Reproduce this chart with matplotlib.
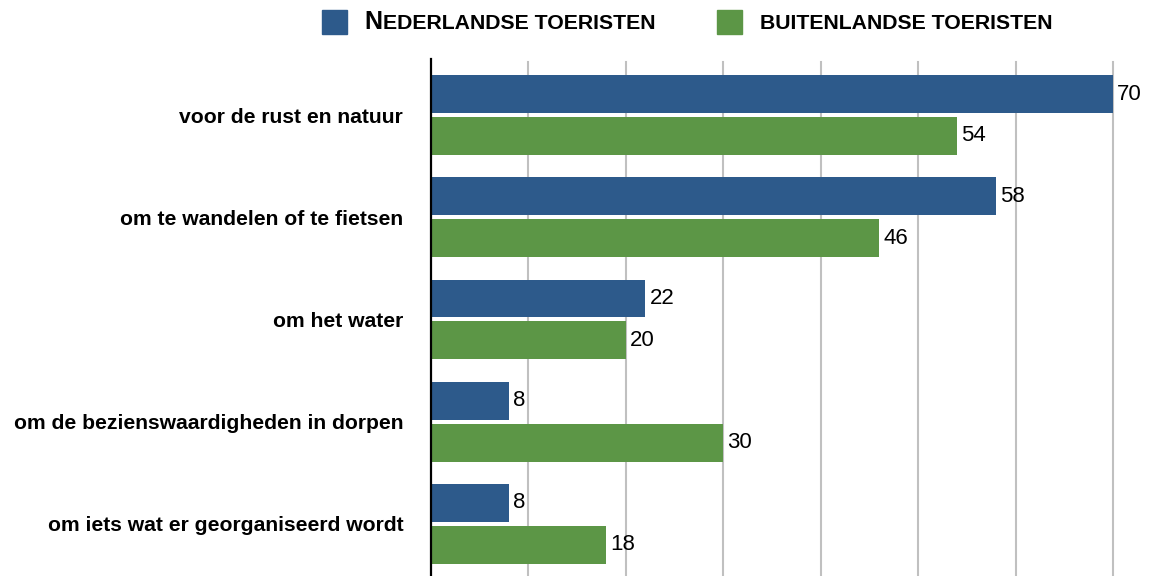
import numpy as np
import matplotlib.pyplot as plt
from matplotlib.patches import Rectangle

# ======================
# Data
# ======================
categories = [
    "voor de rust en natuur",
    "om te wandelen of te fietsen",
    "om het water",
    "om de bezienswaardigheden in dorpen",
    "om iets wat er georganiseerd wordt",
]
nederlandse = [70, 58, 22, 8, 8]
buitenlandse = [54, 46, 20, 30, 18]
grid_ticks = [10, 20, 30, 40, 50, 60, 70]

BLUE = "#2d5a8b"
GREEN = "#5c9646"
GRID = "#c0c0c0"

plt.rcParams["font.family"] = ["Liberation Sans", "DejaVu Sans"]

W, H = 1151, 576
fig = plt.figure(figsize=(W / 100, H / 100), dpi=100)

# axes: left edge at x=431px, top at y=59px, runs to figure edge
ax = fig.add_axes([431 / W, 0, (W - 431) / W, (H - 59) / H])

y = np.arange(len(categories))
bar_h = 0.37
off = 0.205
ax.barh(y - off, nederlandse, height=bar_h, color=BLUE, zorder=2)
ax.barh(y + off, buitenlandse, height=bar_h, color=GREEN, zorder=2)

px_per_unit = (1113 - 431) / 70
ax.set_xlim(0, (W - 431) / px_per_unit)
ax.set_ylim(4.51, -0.548)

# grid lines start a little below the axis top
grid_top = (H - 62) / (H - 59)
for g in grid_ticks:
    ax.axvline(g, ymin=0, ymax=grid_top, color=GRID, lw=1.5, zorder=0)

ax.set_xticks([])
ax.tick_params(axis="y", length=0, pad=20)
ax.set_yticks(y)
ax.set_yticklabels(categories, fontsize=15.2, fontweight="bold")

for s in ["top", "right", "bottom"]:
    ax.spines[s].set_visible(False)
ax.spines["left"].set_color("black")
ax.spines["left"].set_linewidth(1.6)

# value labels
for yi, v in zip(y, nederlandse):
    ax.annotate(str(v), (v, yi - off), xytext=(3, 0), textcoords="offset points",
                va="center", ha="left", fontsize=16)
for yi, v in zip(y, buitenlandse):
    ax.annotate(str(v), (v, yi + off), xytext=(3, 0), textcoords="offset points",
                va="center", ha="left", fontsize=16)

# ======================
# Legend (small caps look)
# ======================
def legend_entry(x_sq, x_txt, color, big, small):
    fig.patches.append(Rectangle((x_sq / W, 1 - 34 / H), 25 / W, 24 / H,
                                 transform=fig.transFigure, color=color))
    base_y = 1 - 29 / H
    if big:
        t = fig.text(x_txt / W, base_y, big, fontsize=18, fontweight="bold",
                     va="baseline", ha="left")
        fig.canvas.draw()
        x_txt = t.get_window_extent().x1 + 1
    fig.text(x_txt / W, base_y, small, fontsize=15.3, fontweight="bold",
             va="baseline", ha="left")

legend_entry(322, 364, BLUE, "N", "EDERLANDSE TOERISTEN")
legend_entry(717, 760, GREEN, "", "BUITENLANDSE TOERISTEN")

fig.savefig("out.png", dpi=100)
